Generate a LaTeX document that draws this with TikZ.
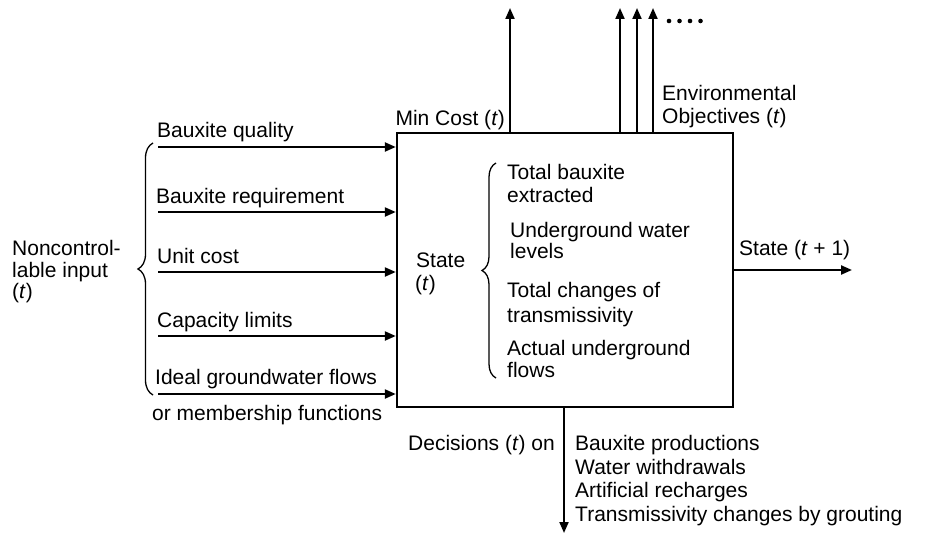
\documentclass[tikz,border=0pt]{standalone}
\usepackage{fontspec}
\setmainfont{Liberation Sans}
\usetikzlibrary{arrows.meta,decorations.pathreplacing}
\begin{document}
\begin{tikzpicture}[x=1pt,y=-1pt,
  lbl/.style={anchor=base west,inner sep=0pt,font=\fontsize{21}{25}\selectfont},
  lblr/.style={lbl,anchor=base east},
  flow/.style={line width=2.2pt,-{Triangle[length=11pt,width=9pt]}},
  outflow/.style={line width=2pt,-{Triangle[length=11pt,width=9pt]}},
  curly/.style={line width=1.3pt,decorate,decoration={brace,amplitude=#1}},
  dot/.style={circle,fill,inner sep=0pt,minimum size=4.6pt}
]
\useasboundingbox (0,0) rectangle (933,535);

% the system block
\node[draw,line width=2.4pt,minimum width=336pt,minimum height=274pt,inner sep=0pt] (sys) at (565,270) {};

% noncontrollable inputs
\coordinate (i1) at (158,147);
\coordinate (i2) at (158,212);
\coordinate (i3) at (158,272);
\coordinate (i4) at (158,336);
\coordinate (i5) at (158,394);
\foreach \c in {i1,i2,i3,i4,i5}
  \draw[flow] (\c) -- (\c -| sys.west);

\node[lbl] (l1) at (157,137) {Bauxite quality};
\node[lbl] (l2) at (156,203) {Bauxite requirement};
\node[lbl] (l3) at (157,263) {Unit cost};
\node[lbl] (l4) at (157,327) {Capacity limits};
\node[lbl] (l5) at (155,384) {Ideal groundwater flows};
\node[lbl] (l6) at (152,420) {or membership functions};

\draw[curly=15pt] (153,395) -- (153,143);
\node[lbl] (n1) at (12,255) {Noncontrol-};
\node[lbl] (n2) at (12,277) {lable input};
\node[lbl] (n3) at (12,298) {(\textit{t})};

% objectives
\coordinate (mc) at (510,8);
\coordinate (e1) at (620,8);
\coordinate (e2) at (637,8);
\coordinate (e3) at (653,8);
\foreach \c in {mc,e1,e2,e3}
  \draw[outflow] (sys.north -| \c) -- (\c);
\foreach \x in {669,679.5,690,700.5}
  \node[dot] at (\x,21) {};
\node[lblr] (mcl) at (505,125) {Min Cost (\textit{t})};
\node[lbl] (env1) at (662,100) {Environmental};
\node[lbl] (env2) at (662,123) {Objectives (\textit{t})};

% state
\node[lbl] (s1) at (416,267) {State};
\node[lbl] (s2) at (415,290) {(\textit{t})};
\draw[curly=14pt] (496,378) -- (496,163);
\node[lbl] (a1) at (507,179) {Total bauxite};
\node[lbl] (a2) at (507,202) {extracted};
\node[lbl] (b1) at (510,237) {Underground water};
\node[lbl] (b2) at (510,258) {levels};
\node[lbl] (c1) at (507,297) {Total changes of};
\node[lbl] (c2) at (507,322) {transmissivity};
\node[lbl] (d1) at (507,355) {Actual underground};
\node[lbl] (d2) at (507,377) {flows};

% next state
\coordinate (so) at (852,270);
\draw[flow] (sys.east |- so) -- (so);
\node[lbl] (sn) at (739,255) {State (\textit{t} + 1)};

% decisions
\coordinate (dec) at (564,533);
\draw[outflow] (sys.south -| dec) -- (dec);
\node[lblr] (decl) at (555,450) {Decisions (\textit{t}) on};
\node[lbl] (p1) at (575,450) {Bauxite productions};
\node[lbl] (p2) at (575,474) {Water withdrawals};
\node[lbl] (p3) at (575,497) {Artificial recharges};
\node[lbl] (p4) at (575,521) {Transmissivity changes by grouting};
\end{tikzpicture}
\end{document}
